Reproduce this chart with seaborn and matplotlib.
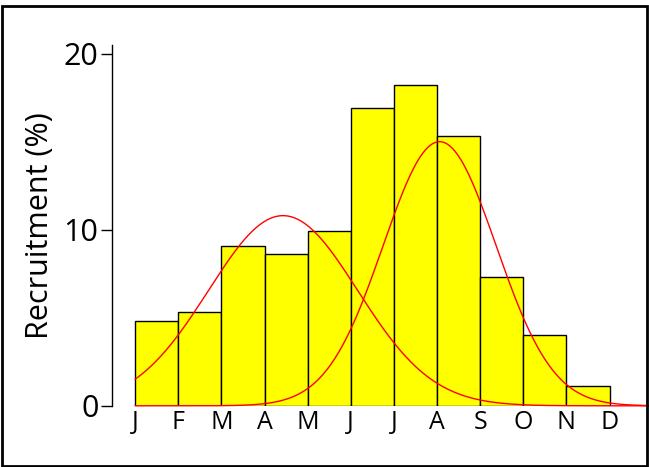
import numpy as np
import pandas as pd
import matplotlib
matplotlib.use("Agg")
import matplotlib.pyplot as plt
import seaborn as sns
from matplotlib.patches import Rectangle

months = ["J", "F", "M", "A", "M", "J", "J", "A", "S", "O", "N", "D"]
recruitment = [4.8, 5.3, 9.1, 8.6, 9.9, 16.9, 18.2, 15.3, 7.3, 4.0, 1.1]

# fitted normal components: (peak, mean, sd) in month units
fit_peaks = [10.8, 15.0]
fit_means = [3.43, 7.06]
fit_sds = [1.73, 1.31]

sns.set_style("ticks")
plt.rcParams["font.family"] = ["Open Sans", "DejaVu Sans"]
plt.rcParams["text.color"] = "black"
plt.rcParams["xtick.color"] = "black"
plt.rcParams["ytick.color"] = "black"
plt.rcParams["axes.labelcolor"] = "black"

fig = plt.figure(figsize=(6.49, 4.67), dpi=100)
ax = fig.add_axes([0.173, 0.131, 0.826, 0.773])

df = pd.DataFrame({"pos": np.arange(len(recruitment)) + 0.5, "val": recruitment})
ax.bar(df["pos"], df["val"], width=1.0, color="#ffff00", edgecolor="black", linewidth=1)

xs = np.linspace(0, 12, 400)
for p, m, s in zip(fit_peaks, fit_means, fit_sds):
    sns.lineplot(x=xs, y=p * np.exp(-(xs - m) ** 2 / (2 * s ** 2)), color="red",
                 linewidth=1, ax=ax, clip_on=False)

ax.set_xlim(-0.53, 11.9)
ax.set_ylim(0, 20.5)
ax.set_xticks(range(12))
ax.set_xticklabels(months, fontsize=18)
ax.set_yticks([0, 10, 20])
ax.set_yticklabels(["0", "10", "20"], fontsize=22)
ax.tick_params(axis="x", length=0, pad=3)
ax.tick_params(axis="y", length=8, width=1, direction="out", pad=2)
ax.set_ylabel("Recruitment (%)", fontsize=22, labelpad=6)
sns.despine(ax=ax, top=True, right=True, bottom=True)
ax.spines["left"].set_linewidth(1)
ax.spines["left"].set_color("black")

fig.patches.append(Rectangle((0.003, 0.003), 0.994, 0.985, transform=fig.transFigure,
                             fill=False, edgecolor="black", linewidth=2))
fig.savefig("out.png", dpi=100)
